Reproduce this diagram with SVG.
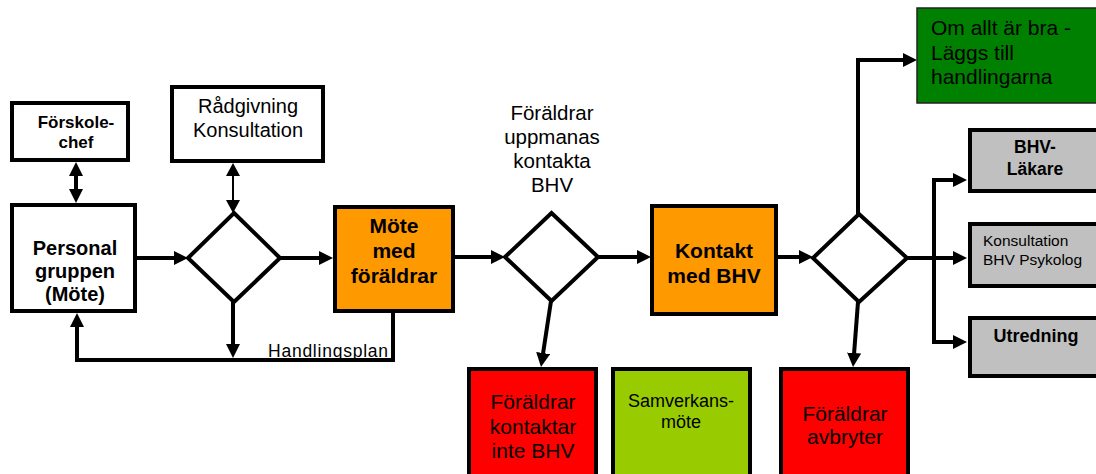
<svg xmlns="http://www.w3.org/2000/svg" width="1096" height="474" viewBox="0 0 1096 474">
<style>
.box{stroke:#000;stroke-width:4}
.w{fill:#fff}
.or{fill:#FF9900}
.rd{fill:#FF0000}
.lg{fill:#99CC00}
.gy{fill:#C0C0C0}
.dm{fill:#fff;stroke:#000;stroke-width:4;stroke-linejoin:miter}
.c{fill:none;stroke:#000;stroke-width:4}
.ct{fill:none;stroke:#000;stroke-width:2}
text{font-family:"Liberation Sans",Arial,sans-serif;fill:#000}
.b{font-weight:bold}
.m{text-anchor:middle}
</style>
<defs>
<marker id="ah" markerUnits="userSpaceOnUse" markerWidth="14" markerHeight="14" refX="4" refY="7" orient="auto-start-reverse"><path d="M0,0 L14,7 L0,14 z" fill="#000"/></marker>
<marker id="aht" markerUnits="userSpaceOnUse" markerWidth="13" markerHeight="14" refX="3" refY="7" orient="auto-start-reverse"><path d="M0,0 L13,7 L0,14 z" fill="#000"/></marker>
</defs>
<g id="connectors">
<path class="c" d="M76,172 V193" marker-start="url(#ah)" marker-end="url(#ah)"/>
<path class="ct" d="M233,173 V203" marker-start="url(#aht)" marker-end="url(#aht)"/>
<path class="c" d="M137,258 H178" marker-end="url(#ah)"/>
<path class="c" d="M280,258 H323" marker-end="url(#ah)"/>
<path class="c" d="M233,302 V348" marker-end="url(#ah)"/>
<path class="c" d="M393,313 V360 H77 V323" marker-end="url(#ah)"/>
<path class="c" d="M455,257 H495" marker-end="url(#ah)"/>
<path class="c" d="M598,257 H641" marker-end="url(#ah)"/>
<path class="c" d="M551,301 L542.5,357" marker-end="url(#ah)"/>
<path class="c" d="M778,257 H803" marker-end="url(#ah)"/>
<path class="c" d="M858,214 V60 H907" marker-end="url(#ah)"/>
<path class="c" d="M907,258 H957" marker-end="url(#ah)"/>
<path class="c" d="M934,258 V180 H957" marker-end="url(#ah)"/>
<path class="c" d="M934,258 V342 H957" marker-end="url(#ah)"/>
<path class="c" d="M858,302 L853.8,357" marker-end="url(#ah)"/>
<text x="268" y="357" font-size="17.5" textLength="120" lengthAdjust="spacing">Handlingsplan</text>
</g>
<g id="forskolechef">
<rect class="box w" x="12" y="103" width="116" height="57"/>
<text class="b m" x="76" y="128" font-size="17">Förskole-</text>
<text class="b m" x="76" y="148" font-size="17">chef</text>
</g>
<g id="personalgruppen">
<rect class="box w" x="12" y="205" width="123" height="106"/>
<text class="b m" x="75" y="255" font-size="20">Personal</text>
<text class="b m" x="75" y="278" font-size="20">gruppen</text>
<text class="b m" x="75" y="301" font-size="20">(Möte)</text>
</g>
<g id="radgivning">
<rect class="box w" x="172" y="87" width="151" height="74"/>
<text class="m" x="248" y="113" font-size="20">Rådgivning</text>
<text class="m" x="248" y="137" font-size="20">Konsultation</text>
</g>
<g id="beslut1">
<path class="dm" d="M234,213 L280,258 L234,302 L188,258 z"/>
</g>
<g id="mote">
<rect class="box or" x="335" y="207" width="118" height="104"/>
<text class="b m" x="394" y="233" font-size="21">Möte</text>
<text class="b m" x="394" y="258" font-size="21">med</text>
<text class="b m" x="394" y="283" font-size="21">föräldrar</text>
</g>
<g id="uppmanas">
<text class="m" x="552" y="120" font-size="20.5">Föräldrar</text>
<text class="m" x="552" y="144" font-size="20.5">uppmanas</text>
<text class="m" x="552" y="168" font-size="20.5">kontakta</text>
<text class="m" x="552" y="192" font-size="20.5">BHV</text>
</g>
<g id="beslut2">
<path class="dm" d="M551.5,213 L598,257 L551.5,301 L505,257 z"/>
</g>
<g id="kontakt">
<rect class="box or" x="652" y="206" width="124" height="108"/>
<text class="b m" x="714" y="258" font-size="21">Kontakt</text>
<text class="b m" x="714" y="283" font-size="21">med BHV</text>
</g>
<g id="beslut3">
<path class="dm" d="M859,214 L907,258 L859,302 L813,258 z"/>
</g>
<g id="ombra">
<rect x="917" y="8" width="200" height="95" fill="#008000" stroke="#222" stroke-width="1.5"/>
<text x="931" y="35" font-size="21">Om allt är bra -</text>
<text x="931" y="60" font-size="21">Läggs till</text>
<text x="931" y="84" font-size="21">handlingarna</text>
</g>
<g id="bhvlakare">
<rect class="box gy" x="970" y="130" width="150" height="61"/>
<text class="b m" x="1035" y="153" font-size="17.5">BHV-</text>
<text class="b m" x="1035" y="175" font-size="17.5">Läkare</text>
</g>
<g id="psykolog">
<rect class="box gy" x="970" y="224" width="150" height="62"/>
<text x="983" y="246" font-size="15.5">Konsultation</text>
<text x="983" y="265" font-size="15.5">BHV Psykolog</text>
</g>
<g id="utredning">
<rect class="box gy" x="970" y="318" width="150" height="58"/>
<text class="b m" x="1036" y="342" font-size="18">Utredning</text>
</g>
<g id="kontaktarinte">
<rect class="box rd" x="469" y="369" width="127" height="120"/>
<text class="m" x="533" y="409" font-size="21">Föräldrar</text>
<text class="m" x="533" y="434" font-size="21">kontaktar</text>
<text class="m" x="533" y="458" font-size="21">inte BHV</text>
</g>
<g id="samverkan">
<rect class="box lg" x="613" y="369" width="137" height="120"/>
<text class="m" x="681" y="407" font-size="18">Samverkans-</text>
<text class="m" x="681" y="428" font-size="18">möte</text>
</g>
<g id="avbryter">
<rect class="box rd" x="781" y="369" width="127" height="120"/>
<text class="m" x="845" y="421" font-size="21">Föräldrar</text>
<text class="m" x="845" y="444" font-size="21">avbryter</text>
</g>
</svg>
